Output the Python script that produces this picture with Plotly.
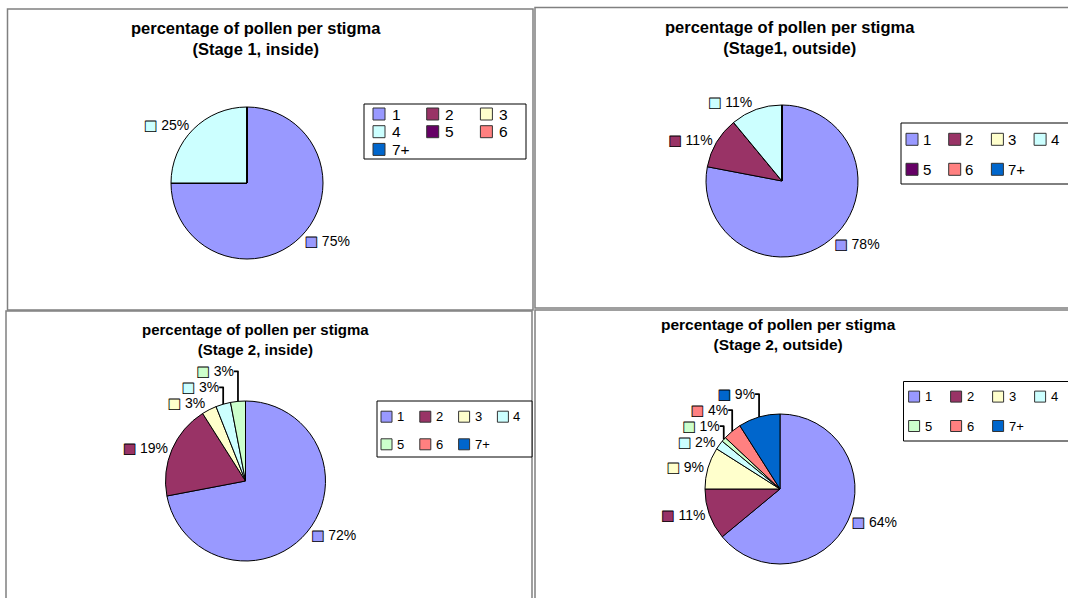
import plotly.graph_objects as go

W, H = 1068, 598

# ---------------- data ----------------
categories = ["1", "2", "3", "4", "5", "6", "7+"]
stage1_inside = [75, 0, 0, 25, 0, 0, 0]
stage1_outside = [78, 11, 0, 11, 0, 0, 0]
stage2_inside = [72, 19, 3, 3, 3, 0, 0]
stage2_outside = [64, 11, 9, 2, 1, 4, 9]

titles = [
    "percentage of pollen per stigma<br>(Stage 1, inside)",
    "percentage of pollen per stigma<br>(Stage1, outside)",
    "percentage of pollen per stigma<br>(Stage 2, inside)",
    "percentage of pollen per stigma<br>(Stage 2, outside)",
]

colors_a = ["#9999FF", "#993366", "#FFFFCC", "#CCFFFF", "#660066", "#FF8080", "#0066CC"]
colors_b = ["#9999FF", "#993366", "#FFFFCC", "#CCFFFF", "#CCFFCC", "#FF8080", "#0066CC"]

# ---------------- layout specs (pixels) ----------------
panels = [
    dict(vals=stage1_inside, cols=colors_a, title=titles[0],
         center=(247, 183), r=76, tx=255.5, ty=38.5, tsize=16.5,
         border=(7.5, 9, 533, 310),
         leg=dict(box=(364, 104, 526, 159), ncol=3, x0=373, dx=53.7, y0=114, dy=17.7, s=12, gap=17.5, fs=15.5)),
    dict(vals=stage1_outside, cols=colors_a, title=titles[1],
         center=(782, 181), r=76, tx=790, ty=37, tsize=16.5,
         border=(535, 7.5, 1080, 308),
         leg=dict(box=(901, 123, 1080, 184), ncol=4, x0=906, dx=42.7, y0=139.3, dy=30, s=12, gap=15.7, fs=15)),
    dict(vals=stage2_inside, cols=colors_b, title=titles[2],
         center=(245.5, 481), r=80, tx=255, ty=339, tsize=15,
         border=(6, 311, 532, 610),
         leg=dict(box=(377, 401, 532, 457), ncol=4, x0=381, dx=38.8, y0=416.7, dy=27.6, s=11, gap=15, fs=13)),
    dict(vals=stage2_outside, cols=colors_b, title=titles[3],
         center=(780, 489), r=75, tx=778, ty=334, tsize=15.5,
         border=(535, 310, 1080, 610),
         leg=dict(box=(903.5, 381.5, 1080, 441), ncol=4, x0=908.6, dx=42, y0=396.6, dy=29.4, s=11, gap=15, fs=13)),
]

fig = go.Figure()
shapes = []
annotations = []

# invisible page-sized axes (pixel coordinates) for frames, titles and legends
fig.add_trace(go.Scatter(x=[0, W], y=[0, H], mode="markers",
                         marker=dict(opacity=0), hoverinfo="skip", showlegend=False))

for p in panels:
    cx, cy = p["center"]
    r = p["r"]
    vals = p["vals"]
    total = sum(vals)
    texts = []
    for v, c in zip(vals, p["cols"]):
        if v > 0:
            pct = round(100 * v / total)
            texts.append(
                f"<span style='font-family:DejaVu Sans;font-size:14px;color:{c};"
                f"stroke:#000000;stroke-width:0.8px'>■</span> {pct}%"
            )
        else:
            texts.append("")
    fig.add_trace(go.Pie(
        labels=categories, values=vals, text=texts, texttemplate="%{text}",
        textposition="outside", sort=False, direction="clockwise", rotation=0,
        marker=dict(colors=p["cols"], line=dict(color="#000000", width=1)),
        textfont=dict(family="Arial", size=14, color="#000000"),
        domain=dict(x=[(cx - r) / W, (cx + r) / W], y=[1 - (cy + r) / H, 1 - (cy - r) / H]),
        showlegend=False, hoverinfo="label+percent",
    ))

    # panel frame
    bx0, by0, bx1, by1 = p["border"]
    shapes.append(dict(type="rect", xref="x", yref="y", x0=bx0, y0=by0, x1=bx1, y1=by1,
                       line=dict(color="#808080", width=1.5), fillcolor="rgba(0,0,0,0)", layer="below"))
    # title
    annotations.append(dict(x=p["tx"], y=p["ty"], xref="x", yref="y",
                            text="<b>" + p["title"].replace("<br>", "</b><br><b>") + "</b>",
                            showarrow=False, xanchor="center", yanchor="middle",
                            font=dict(family="Arial", size=p["tsize"], color="#000000")))
    # legend
    L = p["leg"]
    lx0, ly0, lx1, ly1 = L["box"]
    shapes.append(dict(type="rect", xref="x", yref="y", x0=lx0, y0=ly0, x1=lx1, y1=ly1,
                       line=dict(color="#000000", width=1), fillcolor="#FFFFFF", layer="above"))
    for i, (lab, c) in enumerate(zip(categories, p["cols"])):
        row, col = divmod(i, L["ncol"])
        sx = L["x0"] + col * L["dx"]
        sy = L["y0"] + row * L["dy"]
        s = L["s"]
        shapes.append(dict(type="rect", xref="x", yref="y", x0=sx, y0=sy - s / 2, x1=sx + s, y1=sy + s / 2,
                           line=dict(color="#333333", width=1), fillcolor=c, layer="above"))
        annotations.append(dict(x=sx + L["gap"] - 1, y=sy, xref="x", yref="y", text=lab,
                                showarrow=False, xanchor="left", yanchor="middle",
                                font=dict(family="Arial", size=L["fs"], color="#000000")))

fig.update_layout(
    width=W, height=H,
    margin=dict(l=0, r=0, t=0, b=0),
    paper_bgcolor="#FFFFFF", plot_bgcolor="rgba(0,0,0,0)",
    xaxis=dict(range=[0, W], visible=False, fixedrange=True),
    yaxis=dict(range=[H, 0], visible=False, fixedrange=True),
    shapes=shapes, annotations=annotations,
    showlegend=False,
)

fig.write_html(
    "out.html",
    config={"displayModeBar": False},
    post_script="document.body.style.margin='0';document.body.style.overflow='hidden';",
)
